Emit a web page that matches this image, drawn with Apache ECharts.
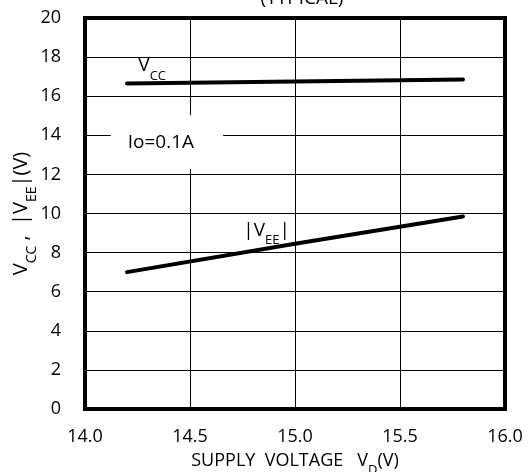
<!DOCTYPE html>
<html><head><meta charset="utf-8">
<script src="https://cdn.jsdelivr.net/npm/echarts@6/dist/echarts.min.js"></script>
<style>html,body{margin:0;padding:0;background:#fff}#c{width:532px;height:472px}</style>
</head><body><div id="c"></div>
<script>
const vd = [14.2, 15.0, 15.8];
const vcc = [16.65, 16.75, 16.85];
const vee = [7.0, 8.45, 9.85];
const xTicks = [14.0, 14.5, 15.0, 15.5, 16.0];
const yTicks = [0, 2, 4, 6, 8, 10, 12, 14, 16, 18, 20];

const FONT = 'Open Sans';
const chart = echarts.init(document.getElementById('c'));
function subRich(n, s, off) {
  return {
    n: {fontSize: n, fontFamily: FONT, color: '#000'},
    s: {fontSize: s, fontFamily: FONT, color: '#000', verticalAlign: 'bottom', padding: [0, 0, off, 0]}
  };
}
chart.setOption({
  animation: false,
  backgroundColor: '#fff',
  title: {
    text: '(TYPICAL)', left: 297, top: -16, textAlign: 'center',
    textStyle: {fontFamily: FONT, fontSize: 19, fontWeight: 'normal', color: '#000'}
  },
  grid: {left: 85, right: 27, top: 18, bottom: 63, outerBoundsMode: 'none', containLabel: false,
         show: true, borderColor: '#000', borderWidth: 4, backgroundColor: '#fff'},
  xAxis: {
    type: 'value', min: 14, max: 16, interval: 0.5,
    axisLine: {show: false}, axisTick: {show: false},
    splitLine: {show: true, lineStyle: {color: '#000', width: 1}},
    axisLabel: {margin: 19, fontSize: 18, fontFamily: FONT, color: '#000', formatter: v => v.toFixed(1)},
    name: '{n|SUPPLY  VOLTAGE   V}{s|D}{n|(V)}', nameLocation: 'middle', nameGap: 43, nameMoveOverlap: false,
    nameTextStyle: {rich: subRich(18, 13, -7)}
  },
  yAxis: {
    type: 'value', min: 0, max: 20, interval: 2,
    axisLine: {show: false}, axisTick: {show: false},
    splitLine: {show: true, lineStyle: {color: '#000', width: 1}},
    axisLabel: {margin: 24, fontSize: 18, fontFamily: FONT, color: '#000'},
    name: '{n|V}{s|CC}{n| ,  |V}{s|EE}{n||(V)}', nameLocation: 'middle', nameGap: 54, nameMoveOverlap: false,
    nameTextStyle: {rich: subRich(20, 14, -8)}
  },
  series: [
    {
      type: 'line', data: vd.map((x, i) => [x, vcc[i]]), symbol: 'none',
      lineStyle: {color: '#000', width: 4, cap: 'round'},
      markPoint: {
        symbol: 'rect', symbolSize: 0,
        data: [
          {coord: [14.32, 17.55], value: 'Vcc', label: {show: true, formatter: '{n|V}{s|CC}', rich: subRich(19, 13, -7)}},
          {coord: [14.39, 13.65], value: 'Io', label: {show: true, formatter: 'Io=0.1A', fontFamily: FONT, fontSize: 19, color: '#000', backgroundColor: '#fff', padding: [13, 29, 22, 17]}}
        ]
      }
    },
    {
      type: 'line', data: vd.map((x, i) => [x, vee[i]]), symbol: 'none',
      lineStyle: {color: '#000', width: 4, cap: 'round'},
      markPoint: {
        symbol: 'rect', symbolSize: 0,
        data: [
          {coord: [14.865, 9.15], value: 'Vee', label: {show: true, formatter: '{n||V}{s|EE}{n||}', rich: subRich(19, 13, -7)}}
        ]
      }
    }
  ]
});
</script></body></html>
